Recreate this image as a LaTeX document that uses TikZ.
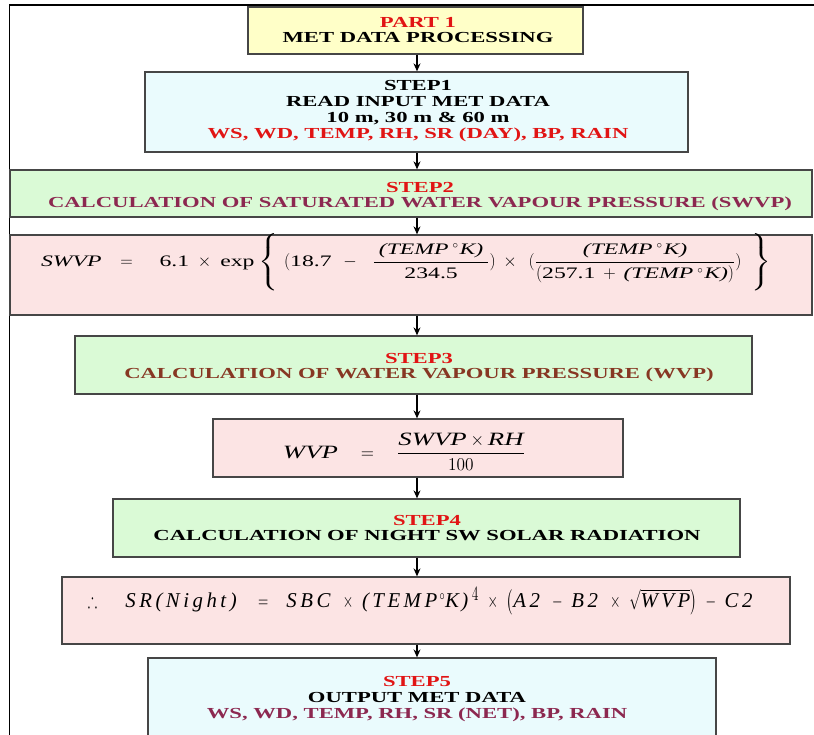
\documentclass[tikz,border=0pt]{standalone}
\usepackage{amsmath}
\usepackage{amssymb}
\usepackage{fontspec}
\setmainfont{Liberation Serif}[FakeStretch=1.48]
\usepackage{graphicx}
\usetikzlibrary{arrows.meta}
\definecolor{yel}{RGB}{255,255,200}
\definecolor{cyn}{RGB}{234,251,253}
\definecolor{grn}{RGB}{218,250,214}
\definecolor{pnk}{RGB}{252,228,228}
\definecolor{redt}{RGB}{225,20,20}
\definecolor{mar}{RGB}{140,40,80}
\definecolor{brn}{RGB}{135,55,35}
\definecolor{bord}{RGB}{70,70,70}
\newcommand\wideL{\mathopen{\hspace{3pt}\scalebox{1.4}[1]{$\left\{\rule[-26pt]{0pt}{52pt}\right.$}\hspace{4pt}}}
\newcommand\wideR{\mathclose{\hspace{4pt}\scalebox{1.4}[1]{$\left.\rule[-26pt]{0pt}{52pt}\right\}$}\hspace{3pt}}}
\begin{document}
\begin{tikzpicture}[x=1pt,y=-1pt,
  box/.style={draw=bord, line width=1.3pt, inner sep=0pt, anchor=center},
  txt/.style={font=\fontsize{15.3}{15.8}\selectfont\bfseries, align=center, inner sep=0pt},
  fml/.style={inner sep=0pt, anchor=center, font=\fontsize{15}{18}\selectfont},
  arr/.style={line width=1.1pt, -{Stealth[length=8pt,width=7pt]}}]
\useasboundingbox (0,0) rectangle (814,735);
\clip (0,0) rectangle (814,735);
\fill[white] (0,0) rectangle (814,735);
\draw[line width=1.6pt] (9.5,740) -- (9.5,5) -- (814,5);
% boxes
\node[box, fill=yel, minimum width=335pt, minimum height=47pt] (part1) at (415.5,30.5) {};
\node[box, fill=cyn, minimum width=543pt, minimum height=80pt] (step1) at (416.5,112) {};
\node[box, fill=grn, minimum width=802pt, minimum height=47pt] (step2) at (411,193.5) {};
\node[box, fill=pnk, minimum width=802pt, minimum height=80pt] (swvp) at (411,275) {};
\node[box, fill=grn, minimum width=677pt, minimum height=58pt] (step3) at (413.5,365) {};
\node[box, fill=pnk, minimum width=410pt, minimum height=58pt] (wvp) at (418,448) {};
\node[box, fill=grn, minimum width=627pt, minimum height=58pt] (step4) at (426.5,528) {};
\node[box, fill=pnk, minimum width=728pt, minimum height=67pt] (sr) at (426,610.5) {};
\node[box, fill=cyn, minimum width=568pt, minimum height=84pt] (step5) at (432,700) {};
% texts
\node[txt] (part1t) at (418,30) {\textcolor{redt}{PART 1}\\MET DATA PROCESSING};
\node[txt] (step1t) at (418,111) {STEP1\\READ INPUT MET DATA\\10 m, 30 m \& 60 m\\\textcolor{redt}{WS, WD, TEMP, RH, SR (DAY), BP, RAIN}};
\node[txt] (step2t) at (420,196.5) {\textcolor{redt}{STEP2}\\\textcolor{mar}{CALCULATION OF SATURATED WATER VAPOUR PRESSURE (SWVP)}};
\node[txt] (step3t) at (419,367.5) {\textcolor{redt}{STEP3}\\\textcolor{brn}{CALCULATION OF WATER VAPOUR PRESSURE (WVP)}};
\node[txt] (step4t) at (427,528) {\textcolor{redt}{STEP4}\\CALCULATION OF NIGHT SW SOLAR RADIATION};
\node[txt] (step5t) at (417,699) {\textcolor{redt}{STEP5}\\OUTPUT MET DATA\\\textcolor{mar}{WS, WD, TEMP, RH, SR (NET), BP, RAIN}};
% formulas
\node[fml, font=\fontsize{16}{19}\selectfont] (swvpf) at (407.5,263) {$\text{\itshape SWVP}\hspace{14pt}=\hspace{22pt}\text{6.1}\hspace{5pt}\times\hspace{5pt}\text{exp}\hspace{1pt}\wideL(\text{18.7}\hspace{8pt}-\hspace{12pt}\dfrac{\hspace{5pt}\text{\itshape (TEMP}\hspace{4pt}^{\circ}\hspace{1pt}\text{\itshape K)}\hspace{5pt}}{\text{234.5}})\hspace{4pt}\times\hspace{8pt}(\dfrac{\text{\itshape (TEMP}\hspace{4pt}^{\circ}\hspace{1pt}\text{\itshape K)}}{(\text{257.1}\hspace{4pt}+\hspace{4pt}\text{\itshape (TEMP}\hspace{4pt}^{\circ}\hspace{1pt}\text{\itshape K)})})\hspace{4pt}\wideR$};
\node[fml] (wvpf) at (404,452) {\resizebox*{242pt}{37pt}{$\textit{WVP}\quad=\quad\dfrac{\textit{SWVP}\times\textit{RH}}{100}$}};
\node[fml] (srf) at (422,601) {\resizebox*{668pt}{28pt}{\addfontfeature{LetterSpace=25}$\therefore$\qquad\textit{SR(Night)}\quad\;$=$\quad\;\textit{SBC} $\times$ \textit{(TEMP\,}$^{\circ}$\textit{K\,)}$^{\textstyle 4}$ $\times$ $\big($\textit{A2} $-$ \textit{B2} $\times$ $\sqrt{\textit{WVP}}$$\big)$ $-$ \textit{C2}}};
% arrows
\coordinate (ax) at (417,0);
\draw[arr] (part1.south -| ax) -- (step1.north -| ax);
\draw[arr] (step1.south -| ax) -- (step2.north -| ax);
\draw[arr] (step2.south -| ax) -- (swvp.north -| ax);
\draw[arr] (swvp.south -| ax) -- (step3.north -| ax);
\draw[arr] (step3.south -| ax) -- (wvp.north -| ax);
\draw[arr] (wvp.south -| ax) -- (step4.north -| ax);
\draw[arr] (step4.south -| ax) -- (sr.north -| ax);
\draw[arr] (sr.south -| ax) -- (step5.north -| ax);
\end{tikzpicture}
\end{document}
